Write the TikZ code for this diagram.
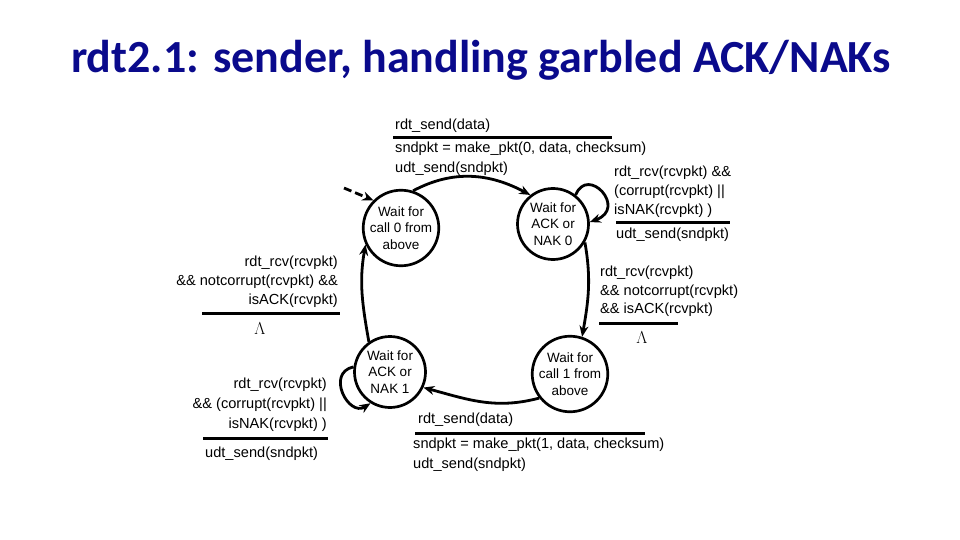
\documentclass[tikz,border=0pt]{standalone}
\usepackage{fontspec}
\setmainfont{Liberation Sans}
\newfontfamily\titlefont{Carlito}
\usetikzlibrary{arrows.meta}
\definecolor{titleblue}{RGB}{10,10,140}
\begin{document}
\begin{tikzpicture}[x=1pt,y=1pt,
  state/.style={circle,draw,line width=2.7pt,minimum size=71pt,inner sep=0pt,align=center,font=\fontsize{13.5}{16.5}\selectfont},
  lbl/.style={inner sep=0pt,font=\fontsize{14.6}{18}\selectfont},
  lam/.style={inner sep=0pt,font=\fontsize{17}{18}\selectfont},
  arr/.style={line width=2.8pt,-{Stealth[length=11pt,width=9pt]}},
  bar/.style={line width=3pt}]
\useasboundingbox (0,0) rectangle (960,-540);
\node[anchor=base west,inner sep=0pt,font=\titlefont\bfseries\fontsize{46}{50}\selectfont,text=titleblue] (title) at (71,-73) {rdt2.1: sender, handling garbled ACK/NAKs};

% states
\node[state] (call0) at (401,-228) {Wait for\\call 0 from\\above};
\node[state] (nak0) at (553,-224) {Wait for\\ACK or\\NAK 0};
\node[state] (nak1) at (390,-372) {Wait for\\ACK or\\NAK 1};
\node[state] (call1) at (570,-374) {Wait for\\call 1 from\\above};

% connectors
\coordinate (init) at (344,-188);
\draw[arr,dash pattern=on 8pt off 4pt] (init) -- (call0.135);
\draw[arr] (call0.72) to[out=28,in=152] (nak0.128);
\draw[arr] (nak0.52) .. controls +(12,30) and +(38,14) .. (nak0.3);
\draw[arr] (nak0.-30) to[out=-80,in=80] (call1.72);
\draw[arr] (call1.218) to[out=195,in=-15] (nak1.-25);
\draw[arr] (nak1.172) .. controls +(-28,-6) and +(-22,-14) .. (nak1.238);
\draw[arr] (nak1.125) to[out=100,in=-100] (call0.205);

% top block
\node[lbl,anchor=base west] (a1) at (395,-130) {rdt\_send(data)};
\draw[bar] (393,-138) -- (612,-138);
\node[lbl,anchor=base west] (a2) at (395,-153) {sndpkt = make\_pkt(0, data, checksum)};
\node[lbl,anchor=base west] (a3) at (395,-172) {udt\_send(sndpkt)};

% right top block
\node[lbl,anchor=base west] (b1) at (614,-177) {rdt\_rcv(rcvpkt) \&\&};
\node[lbl,anchor=base west] (b2) at (614,-196) {(corrupt(rcvpkt) ||};
\node[lbl,anchor=base west] (b3) at (614,-214) {isNAK(rcvpkt) )};
\draw[bar] (616,-222) -- (730,-222);
\node[lbl,anchor=base west] (b4) at (616,-238) {udt\_send(sndpkt)};

% right middle block
\node[lbl,anchor=base west] (c1) at (600,-276) {rdt\_rcv(rcvpkt)};
\node[lbl,anchor=base west] (c2) at (600,-295) {\&\& notcorrupt(rcvpkt)};
\node[lbl,anchor=base west] (c3) at (600,-313) {\&\& isACK(rcvpkt)};
\draw[bar] (599,-323) -- (678,-323);
\node[lam,anchor=base] (c4) at (642,-343) {$\Lambda$};

% left middle block
\node[lbl,anchor=base east] (d1) at (338,-266) {rdt\_rcv(rcvpkt)};
\node[lbl,anchor=base east] (d2) at (338,-285) {\&\& notcorrupt(rcvpkt) \&\&};
\node[lbl,anchor=base east] (d3) at (338,-304) {isACK(rcvpkt)};
\draw[bar] (202,-313) -- (340,-313);
\node[lam,anchor=base] (d4) at (260,-334) {$\Lambda$};

% left bottom block
\node[lbl,anchor=base east] (e1) at (327,-388) {rdt\_rcv(rcvpkt)};
\node[lbl,anchor=base east] (e2) at (327,-408) {\&\& (corrupt(rcvpkt) ||};
\node[lbl,anchor=base east] (e3) at (327,-428) {isNAK(rcvpkt) )};
\draw[bar] (203,-438) -- (328,-438);
\node[lbl,anchor=base west] (e4) at (205,-457) {udt\_send(sndpkt)};

% bottom block
\node[lbl,anchor=base west] (f1) at (418,-423) {rdt\_send(data)};
\draw[bar] (415,-433) -- (645,-433);
\node[lbl,anchor=base west] (f2) at (413,-448) {sndpkt = make\_pkt(1, data, checksum)};
\node[lbl,anchor=base west] (f3) at (413,-468) {udt\_send(sndpkt)};
\end{tikzpicture}
\end{document}
